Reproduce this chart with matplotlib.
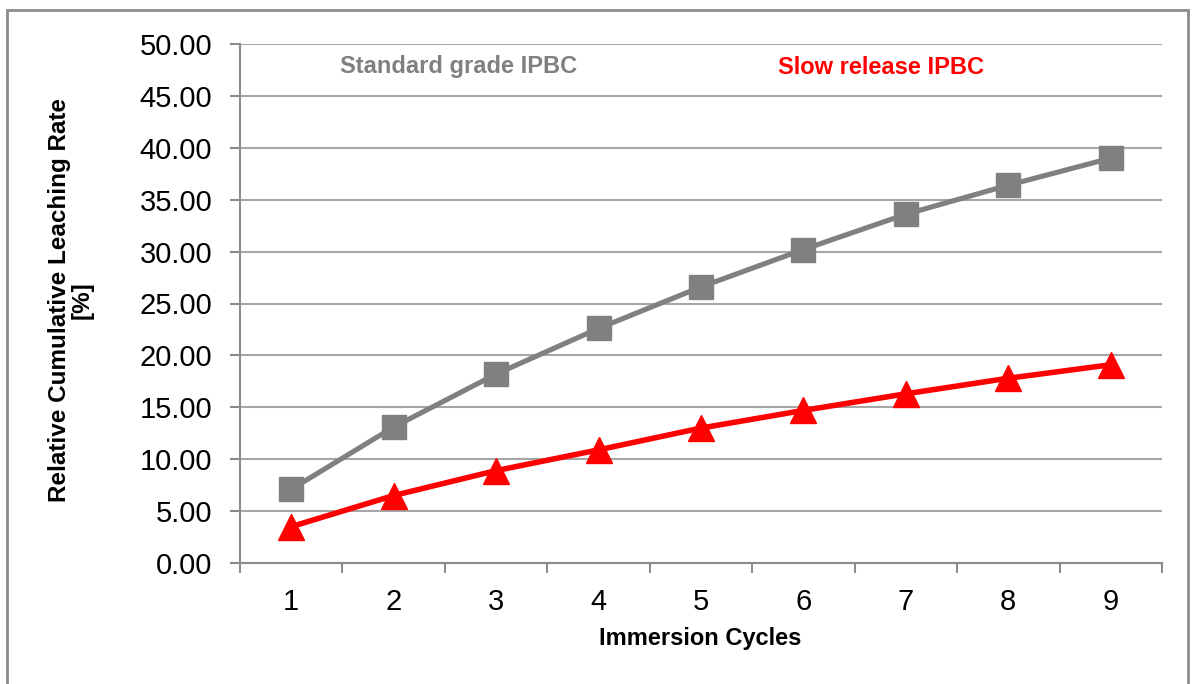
import matplotlib
matplotlib.use("Agg")
import matplotlib.pyplot as plt
from matplotlib.patches import Rectangle

plt.rcParams['font.family'] = ['Liberation Sans', 'DejaVu Sans']

cycles = [1, 2, 3, 4, 5, 6, 7, 8, 9]
standard_ipbc = [7.1, 13.1, 18.2, 22.6, 26.6, 30.2, 33.6, 36.4, 39.0]
slow_release_ipbc = [3.5, 6.5, 8.9, 10.9, 13.0, 14.7, 16.3, 17.8, 19.1]
y_ticks = [0, 5, 10, 15, 20, 25, 30, 35, 40, 45, 50]

W, H = 1192, 684
fig = plt.figure(figsize=(W / 100, H / 100), dpi=100)
fig.patch.set_facecolor('white')

# outer border
fig.add_artist(Rectangle((7 / W, -0.02), (1188 - 7) / W, 1 - 10 / H + 0.02,
                         transform=fig.transFigure, fill=False,
                         edgecolor='#8c8c8c', lw=2.0))

ax = fig.add_axes([240 / W, 1 - 563 / H, (1162 - 240) / W, (563 - 44) / H])

ax.plot(cycles, standard_ipbc, color='#808080', lw=3.7, marker='s',
        markersize=17, markerfacecolor='#808080', markeredgecolor='#808080',
        zorder=3, clip_on=False)
ax.plot(cycles, slow_release_ipbc, color='#ff0000', lw=4.0, marker='^',
        markersize=19, markerfacecolor='#ff0000', markeredgecolor='#ff0000',
        zorder=4, clip_on=False)

ax.set_xlim(0.5, 9.5)
ax.set_ylim(0, 50)

# category axis: ticks at boundaries, labels at centers
ax.set_xticks([c - 0.5 for c in cycles] + [cycles[-1] + 0.5])
ax.set_xticklabels([])
ax.set_xticks(cycles, minor=True)
ax.set_xticklabels([str(c) for c in cycles], minor=True)
ax.tick_params(axis='x', which='major', direction='out', length=7, width=1.5,
               color='#8c8c8c')
ax.tick_params(axis='x', which='minor', length=0, pad=18, labelsize=21)

ax.set_yticks(y_ticks)
ax.set_yticklabels([f"{v:.2f}" for v in y_ticks])
ax.tick_params(axis='y', direction='out', length=7, width=1.5, color='#8c8c8c',
               pad=13, labelsize=21)

ax.yaxis.grid(True, color='#a6a6a6', lw=1.5)
ax.set_axisbelow(True)
for s in ['top', 'right']:
    ax.spines[s].set_visible(False)
for s in ['left', 'bottom']:
    ax.spines[s].set_color('#8c8c8c')
    ax.spines[s].set_linewidth(1.5)

ax.text((340 - 240) / 922, (563 - 67) / 519, "Standard grade IPBC",
        transform=ax.transAxes, color='#808080', fontsize=17,
        fontweight='bold', ha='left', va='center')
ax.text((778 - 240) / 922, (563 - 67) / 519, "Slow release IPBC",
        transform=ax.transAxes, color='#ff0000', fontsize=17,
        fontweight='bold', ha='left', va='center')

fig.text(700 / W, 1 - 639 / H, "Immersion Cycles", fontsize=17,
         fontweight='bold', ha='center', va='center')
fig.text(71 / W, 1 - 300 / H, "Relative Cumulative Leaching Rate\n[%]",
         fontsize=17.5, fontweight='bold', rotation=90, ha='center',
         va='center', multialignment='center', linespacing=1.0)

fig.savefig("out.png", dpi=100)
